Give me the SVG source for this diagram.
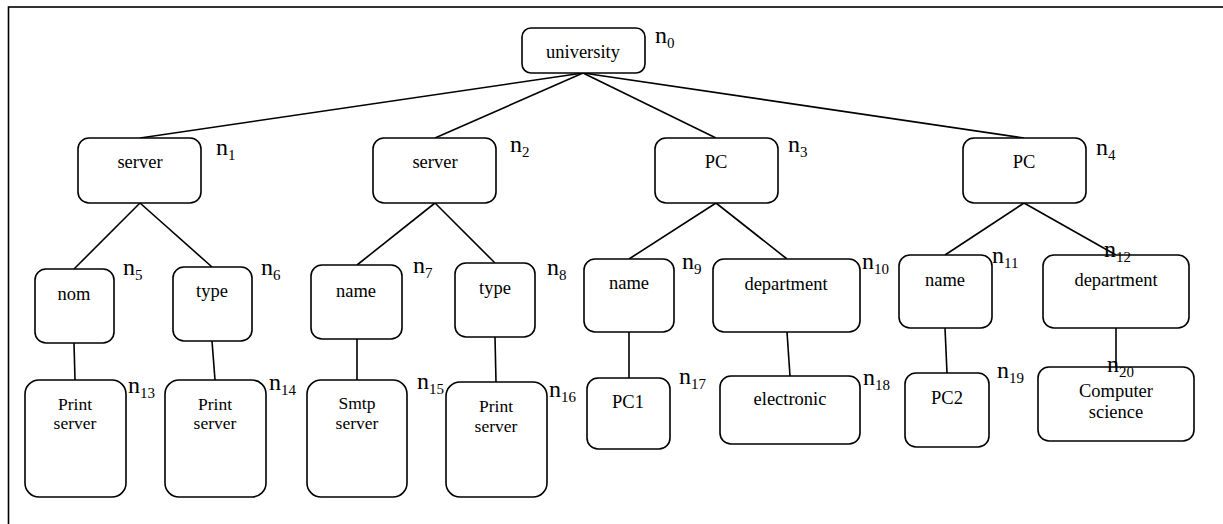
<svg xmlns="http://www.w3.org/2000/svg" width="1223" height="524" viewBox="0 0 1223 524">
<style>
.box{fill:#fff;stroke:#000;stroke-width:1.6}
.t{font-family:"Liberation Serif","Times New Roman",serif;font-size:18.5px;text-anchor:middle;fill:#000}
.s{font-size:17.5px}
.lb{font-family:"Liberation Serif","Times New Roman",serif;font-size:24px;fill:#000}
.sub{font-size:15px}
.e line{stroke:#000;stroke-width:1.6}
</style>
<rect x="8.5" y="7" width="1225" height="530" fill="#fff" stroke="#000" stroke-width="1.6"/>
<g class="e" id="connectors">
<line x1="583" y1="73" x2="140" y2="138"/>
<line x1="583" y1="73" x2="435" y2="138"/>
<line x1="583" y1="73" x2="716" y2="138"/>
<line x1="583" y1="73" x2="1024" y2="138"/>
<line x1="140" y1="203" x2="74" y2="269"/>
<line x1="140" y1="203" x2="212" y2="267"/>
<line x1="435" y1="203" x2="357" y2="265"/>
<line x1="435" y1="203" x2="495" y2="263"/>
<line x1="716" y1="203" x2="629" y2="259"/>
<line x1="716" y1="203" x2="787" y2="259"/>
<line x1="1024" y1="203" x2="945" y2="255"/>
<line x1="1024" y1="203" x2="1116" y2="255"/>
<line x1="74" y1="343" x2="75" y2="380"/>
<line x1="212" y1="341" x2="215" y2="380"/>
<line x1="357" y1="339" x2="357" y2="380"/>
<line x1="495" y1="337" x2="496" y2="382"/>
<line x1="629" y1="332" x2="629" y2="378"/>
<line x1="787" y1="332" x2="790" y2="376"/>
<line x1="945" y1="328" x2="947" y2="373"/>
<line x1="1116" y1="328" x2="1116" y2="367"/>
</g>
<g id="n0"><rect class="box" x="522" y="28" width="123" height="45" rx="9"/><text class="t" x="583" y="58">university</text><text class="lb" x="655" y="43">n<tspan class="sub" dy="5">0</tspan></text></g>
<g id="n1"><rect class="box" x="78" y="138" width="123" height="65" rx="11"/><text class="t" x="140" y="168">server</text><text class="lb" x="216" y="155">n<tspan class="sub" dy="5">1</tspan></text></g>
<g id="n2"><rect class="box" x="373" y="138" width="123" height="65" rx="11"/><text class="t" x="435" y="168">server</text><text class="lb" x="510" y="152">n<tspan class="sub" dy="5">2</tspan></text></g>
<g id="n3"><rect class="box" x="655" y="138" width="123" height="65" rx="11"/><text class="t" x="716" y="168">PC</text><text class="lb" x="788" y="152">n<tspan class="sub" dy="5">3</tspan></text></g>
<g id="n4"><rect class="box" x="963" y="138" width="123" height="65" rx="11"/><text class="t" x="1024" y="168">PC</text><text class="lb" x="1096" y="155">n<tspan class="sub" dy="5">4</tspan></text></g>
<g id="n5"><rect class="box" x="35" y="269" width="79" height="74" rx="11"/><text class="t" x="74" y="300">nom</text><text class="lb" x="123" y="275">n<tspan class="sub" dy="5">5</tspan></text></g>
<g id="n6"><rect class="box" x="173" y="267" width="79" height="74" rx="11"/><text class="t" x="212" y="297">type</text><text class="lb" x="261" y="275">n<tspan class="sub" dy="5">6</tspan></text></g>
<g id="n7"><rect class="box" x="311" y="265" width="91" height="74" rx="11"/><text class="t" x="356" y="297">name</text><text class="lb" x="413" y="273">n<tspan class="sub" dy="5">7</tspan></text></g>
<g id="n8"><rect class="box" x="455" y="263" width="80" height="74" rx="11"/><text class="t" x="495" y="294">type</text><text class="lb" x="547" y="275">n<tspan class="sub" dy="5">8</tspan></text></g>
<g id="n9"><rect class="box" x="584" y="259" width="90" height="73" rx="11"/><text class="t" x="629" y="289">name</text><text class="lb" x="682" y="269">n<tspan class="sub" dy="5">9</tspan></text></g>
<g id="n10"><rect class="box" x="713" y="259" width="147" height="73" rx="11"/><text class="t" x="786" y="290">department</text><text class="lb" x="862" y="269">n<tspan class="sub" dy="5">10</tspan></text></g>
<g id="n11"><rect class="box" x="899" y="255" width="93" height="73" rx="11"/><text class="t" x="945" y="286">name</text><text class="lb" x="992" y="263">n<tspan class="sub" dy="5">11</tspan></text></g>
<g id="n12"><rect class="box" x="1043" y="255" width="146" height="73" rx="11"/><text class="t" x="1116" y="286">department</text><text class="lb" x="1104" y="257">n<tspan class="sub" dy="5">12</tspan></text></g>
<g id="n13"><rect class="box" x="25" y="380" width="101" height="117" rx="14"/><text class="t s" x="75" y="410">Print</text><text class="t s" x="75" y="429">server</text><text class="lb" x="128" y="393">n<tspan class="sub" dy="5">13</tspan></text></g>
<g id="n14"><rect class="box" x="165" y="380" width="101" height="117" rx="14"/><text class="t s" x="215" y="410">Print</text><text class="t s" x="215" y="429">server</text><text class="lb" x="269" y="390">n<tspan class="sub" dy="5">14</tspan></text></g>
<g id="n15"><rect class="box" x="307" y="380" width="100" height="117" rx="14"/><text class="t s" x="357" y="409">Smtp</text><text class="t s" x="357" y="429">server</text><text class="lb" x="417" y="389">n<tspan class="sub" dy="5">15</tspan></text></g>
<g id="n16"><rect class="box" x="446" y="382" width="101" height="115" rx="14"/><text class="t s" x="496" y="412">Print</text><text class="t s" x="496" y="432">server</text><text class="lb" x="549" y="397">n<tspan class="sub" dy="5">16</tspan></text></g>
<g id="n17"><rect class="box" x="587" y="378" width="83" height="71" rx="11"/><text class="t" x="628" y="408">PC1</text><text class="lb" x="679" y="384">n<tspan class="sub" dy="5">17</tspan></text></g>
<g id="n18"><rect class="box" x="720" y="376" width="140" height="68" rx="11"/><text class="t" x="790" y="405">electronic</text><text class="lb" x="863" y="385">n<tspan class="sub" dy="5">18</tspan></text></g>
<g id="n19"><rect class="box" x="905" y="373" width="84" height="74" rx="11"/><text class="t" x="947" y="404">PC2</text><text class="lb" x="997" y="378">n<tspan class="sub" dy="5">19</tspan></text></g>
<g id="n20"><rect class="box" x="1038" y="367" width="156" height="74" rx="11"/><text class="t" x="1116" y="397">Computer</text><text class="t" x="1116" y="418">science</text><text class="lb" x="1107" y="372">n<tspan class="sub" dy="5">20</tspan></text></g>
</svg>
